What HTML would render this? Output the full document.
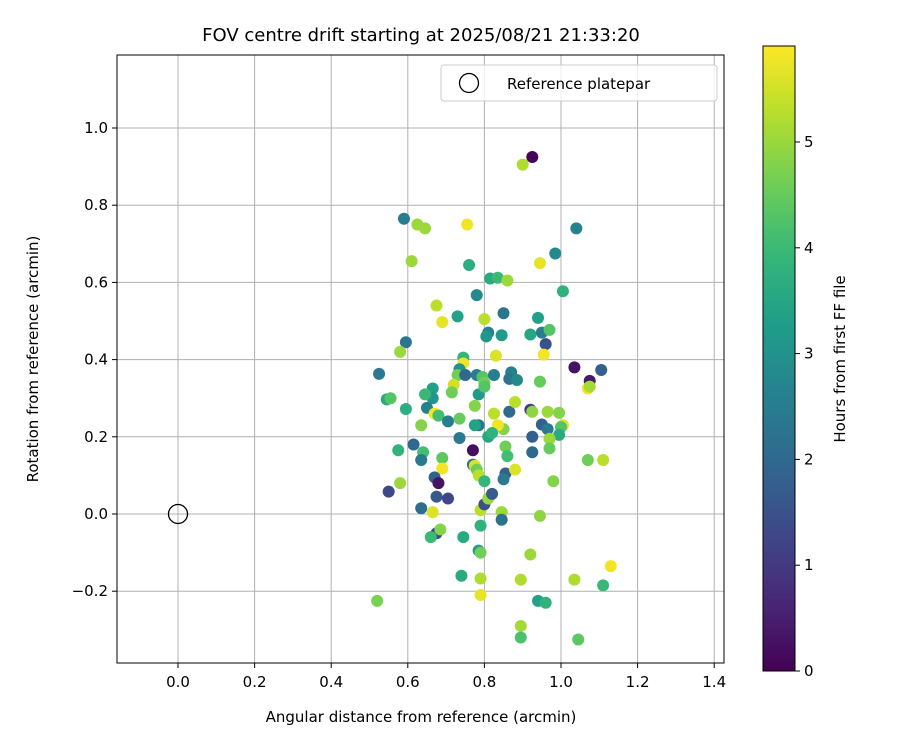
<!DOCTYPE html>
<html><head><meta charset="utf-8"><style>
body{margin:0;background:#fff}
svg{font-family:"DejaVu Sans","Liberation Sans",sans-serif}
</style></head><body>
<svg id="c" width="900" height="750" xmlns="http://www.w3.org/2000/svg"></svg>
<script>
const xs=[0.925,0.90,0.59,0.625,0.645,0.755,1.04,0.985,0.61,0.76,0.945,0.815,0.835,0.86,1.005,0.78,0.675,0.73,0.69,0.80,0.85,0.94,0.595,0.81,0.805,0.845,0.92,0.95,0.96,0.97,0.955,0.58,0.525,0.745,0.745,0.735,0.73,0.75,0.78,0.795,0.80,0.83,0.825,0.87,0.865,0.885,0.72,0.715,0.665,0.665,0.645,0.545,0.555,0.785,0.80,0.945,1.035,1.075,1.105,1.07,1.075,0.595,0.65,0.67,0.68,0.705,0.735,0.775,0.825,0.865,0.88,0.92,0.925,0.95,0.965,0.965,0.995,1.005,1.0,0.995,0.97,0.97,0.925,0.925,0.85,0.835,0.81,0.82,0.785,0.775,0.735,0.575,0.615,0.64,0.635,0.635,0.69,0.69,0.77,0.77,0.775,0.78,0.785,0.80,0.855,0.86,0.855,0.85,0.88,0.67,0.68,0.675,0.705,0.635,0.665,0.58,0.55,0.79,0.80,0.81,0.82,0.845,0.845,0.945,0.98,1.07,1.11,0.675,0.685,0.66,0.745,0.785,0.79,0.79,0.92,0.52,0.74,0.79,0.79,0.895,0.94,0.96,1.035,1.11,1.13,0.895,0.895,1.045];
const ys=[0.925,0.905,0.765,0.75,0.74,0.75,0.74,0.675,0.655,0.645,0.65,0.61,0.612,0.605,0.577,0.567,0.54,0.512,0.497,0.505,0.52,0.508,0.445,0.47,0.46,0.463,0.465,0.47,0.44,0.477,0.413,0.42,0.363,0.405,0.39,0.375,0.36,0.36,0.36,0.355,0.34,0.41,0.36,0.367,0.35,0.347,0.335,0.315,0.325,0.30,0.31,0.297,0.30,0.31,0.33,0.343,0.38,0.345,0.373,0.325,0.33,0.272,0.275,0.26,0.255,0.24,0.247,0.28,0.26,0.265,0.29,0.27,0.265,0.232,0.265,0.22,0.262,0.23,0.225,0.205,0.195,0.17,0.2,0.16,0.22,0.23,0.2,0.21,0.23,0.23,0.197,0.165,0.18,0.16,0.14,0.23,0.145,0.118,0.165,0.128,0.125,0.115,0.10,0.085,0.175,0.15,0.105,0.09,0.115,0.095,0.08,0.045,0.04,0.015,0.005,0.08,0.058,0.01,0.025,0.04,0.052,0.005,-0.015,-0.005,0.085,0.14,0.14,-0.05,-0.04,-0.06,-0.06,-0.095,-0.10,-0.03,-0.105,-0.225,-0.16,-0.167,-0.21,-0.17,-0.225,-0.23,-0.17,-0.185,-0.135,-0.29,-0.32,-0.325];
const hours=[0.1,5.2,2.5,5.0,5.0,5.8,2.6,2.8,5.0,3.7,5.7,3.6,4.0,5.0,3.8,2.8,5.3,3.4,5.7,5.3,2.3,3.3,2.3,2.6,3.1,3.2,3.5,2.5,1.5,4.3,5.8,5.0,2.4,3.9,5.8,3.0,4.6,2.0,2.5,4.3,4.6,5.6,2.5,2.6,2.3,2.8,5.5,4.6,3.3,3.1,4.0,3.6,4.3,3.2,4.3,4.5,0.3,0.4,1.8,5.8,5.1,3.7,2.6,5.8,4.1,2.5,4.5,4.8,5.3,2.0,5.3,1.0,4.9,1.8,5.0,2.4,4.8,5.6,4.3,3.6,5.0,4.5,1.8,2.0,4.8,5.8,3.5,3.8,2.3,3.4,2.4,3.8,2.0,4.1,2.4,4.8,4.4,5.8,0.2,2.3,5.6,4.6,5.3,3.9,4.6,4.1,1.8,2.4,5.6,1.8,0.3,1.6,1.3,2.1,5.6,5.0,1.3,5.3,1.5,5.0,1.7,5.0,2.2,4.9,4.8,4.6,5.3,1.3,4.8,4.0,3.6,3.2,4.6,3.8,5.0,4.7,3.6,5.2,5.7,5.2,3.4,3.8,5.2,4.0,5.8,5.1,4.2,4.4];
const xTicks=[0.0,0.2,0.4,0.6,0.8,1.0,1.2,1.4];
const yTicks=[-0.2,0.0,0.2,0.4,0.6,0.8,1.0];
const cTicks=[0,1,2,3,4,5];
const NS="http://www.w3.org/2000/svg",svg=document.getElementById('c');
const L=117,R=724,T=55,B=663;
const X=v=>178+v*383, Y=v=>514-v*386;
const CB=v=>671-v*105.8, CMAX=5.91;
const stops=["#440154","#482878","#3e4989","#31688e","#26828e","#1f9e89","#35b779","#6ece58","#b5de2b","#fde725"];
function hx(s){return [1,3,5].map(i=>parseInt(s.substr(i,2),16));}
function vir(t){t=Math.max(0,Math.min(1,t));const p=t*9,i=Math.min(8,Math.floor(p)),f=p-i;const a=hx(stops[i]),b=hx(stops[i+1]);return 'rgb('+a.map((c,k)=>Math.round(c+(b[k]-c)*f)).join(',')+')';}
function el(tag,at,txt){const e=document.createElementNS(NS,tag);for(const k in at)e.setAttribute(k,at[k]);if(txt!=null)e.textContent=txt;svg.appendChild(e);return e;}
let e;
xTicks.forEach(v=>{
 e=el('line',{x1:X(v),x2:X(v),y1:T,y2:B,stroke:'#b0b0b0','stroke-width':1});
 
 
 el('line',{x1:X(v),x2:X(v),y1:B,y2:B+5,stroke:'#000'});
 e=el('text',{x:X(v),y:B+24,'text-anchor':'middle','font-size':15},v.toFixed(1));
 
 
});
yTicks.forEach(v=>{
 e=el('line',{x1:L,x2:R,y1:Y(v),y2:Y(v),stroke:'#b0b0b0','stroke-width':1});
 
 
 el('line',{x1:L-5,x2:L,y1:Y(v),y2:Y(v),stroke:'#000'});
 e=el('text',{x:L-9,y:Y(v)+5,'text-anchor':'end','font-size':15},(v<0?'\u2212':'')+Math.abs(v).toFixed(1));
 
 
});
xs.forEach((x,i)=>{
 e=el('circle',{cx:X(x),cy:Y(ys[i]),r:6,fill:vir(hours[i]/CMAX)});
 
 
});
e=el('circle',{cx:X(0),cy:Y(0),r:9.5,fill:'none',stroke:'#000','stroke-width':1.3});


e=el('rect',{x:L,y:T,width:R-L,height:B-T,fill:'none',stroke:'#000','stroke-width':1});


e=el('rect',{x:441,y:65,width:276,height:36,rx:3,fill:'#fff','fill-opacity':0.8,stroke:'#ccc'});


el('circle',{cx:469,cy:83,r:9.5,fill:'none',stroke:'#000','stroke-width':1.3});
e=el('text',{x:507,y:89,'font-size':15},'Reference platepar');


e=el('text',{x:421,y:41,'text-anchor':'middle','font-size':18},'FOV centre drift starting at 2025/08/21 21:33:20');


e=el('text',{x:421,y:722,'text-anchor':'middle','font-size':15},'Angular distance from reference (arcmin)');


e=el('text',{x:0,y:0,'text-anchor':'middle','font-size':15,transform:'translate(38,359) rotate(-90)'},'Rotation from reference (arcmin)');


const defs=el('defs',{});
const g=document.createElementNS(NS,'linearGradient');g.setAttribute('id','vg');g.setAttribute('x1','0');g.setAttribute('y1','1');g.setAttribute('x2','0');g.setAttribute('y2','0');
for(let i=0;i<=20;i++){const s=document.createElementNS(NS,'stop');s.setAttribute('offset',i/20);s.setAttribute('stop-color',vir(i/20));g.appendChild(s);}
defs.appendChild(g);
e=el('rect',{x:763,y:46,width:32,height:625,fill:'url(#vg)',stroke:'#000','stroke-width':1});


cTicks.forEach(v=>{
 el('line',{x1:795,x2:800,y1:CB(v),y2:CB(v),stroke:'#000'});
 e=el('text',{x:804,y:CB(v)+5,'font-size':15},String(v));
 
 
});
e=el('text',{x:0,y:0,'text-anchor':'middle','font-size':15,transform:'translate(845,359) rotate(-90)'},'Hours from first FF file');


</script>
</body></html>
